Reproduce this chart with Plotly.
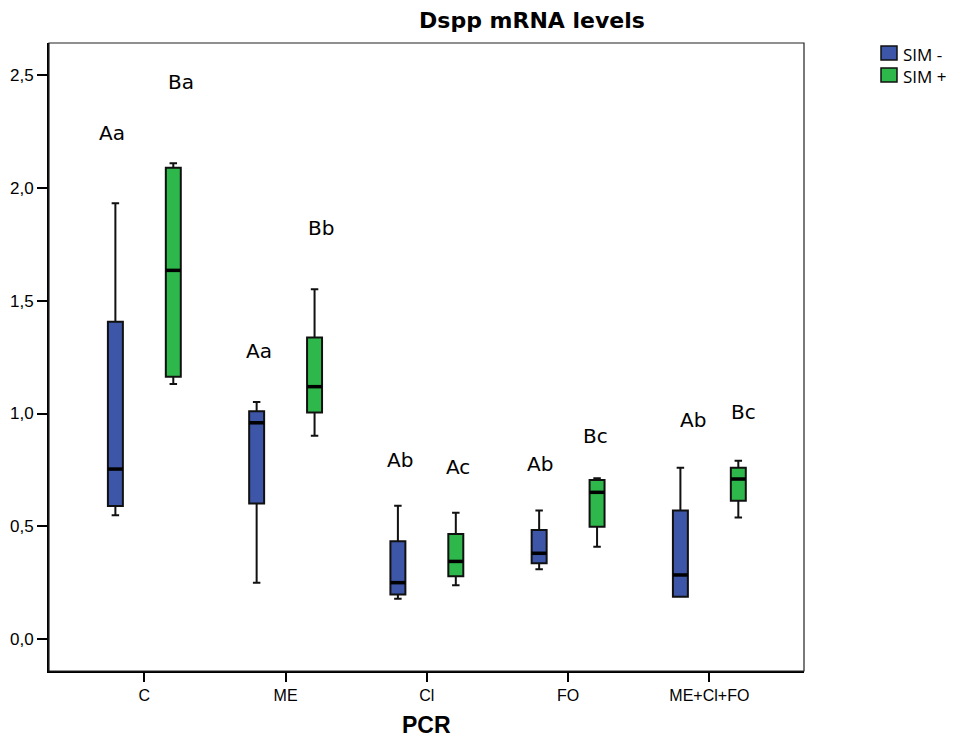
import plotly.graph_objects as go

# ---- data ----
categories = ["C", "ME", "Cl", "FO", "ME+Cl+FO"]
series_names = ["SIM -", "SIM +"]

sim_minus_lower = [0.550, 0.251, 0.180, 0.310, 0.189]
sim_minus_q1 = [0.590, 0.602, 0.199, 0.337, 0.189]
sim_minus_median = [0.754, 0.959, 0.251, 0.381, 0.285]
sim_minus_q3 = [1.407, 1.010, 0.434, 0.484, 0.570]
sim_minus_upper = [1.931, 1.051, 0.592, 0.570, 0.760]

sim_plus_lower = [1.131, 0.902, 0.240, 0.410, 0.539]
sim_plus_q1 = [1.163, 1.004, 0.279, 0.499, 0.614]
sim_plus_median = [1.634, 1.119, 0.345, 0.651, 0.710]
sim_plus_q3 = [2.089, 1.337, 0.466, 0.706, 0.760]
sim_plus_upper = [2.108, 1.550, 0.561, 0.713, 0.791]

sim_minus_letters = ["Aa", "Aa", "Ab", "Ab", "Ab"]
sim_plus_letters = ["Ba", "Bb", "Ac", "Bc", "Bc"]
sim_minus_letter_y = [2.242, 1.277, 0.795, 0.776, 0.973]
sim_plus_letter_y = [2.469, 1.822, 0.761, 0.902, 1.008]

y_tick_values = [0.0, 0.5, 1.0, 1.5, 2.0, 2.5]

# ---- style ----
W, H = 964, 737
ML, MR, MT, MB = 49, 160, 43, 66
PW, PH = W - ML - MR, H - MT - MB
colors = ["#3D56A7", "#2EB84B"]
offsets = [-0.205, 0.205]
box_w = 0.106
minus_letter_dx = [-0.229, -0.187, -0.192, -0.202, -0.119]
plus_letter_dx = [0.260, 0.253, 0.220, 0.195, 0.243]

stats = [
    (sim_minus_lower, sim_minus_q1, sim_minus_median, sim_minus_q3, sim_minus_upper),
    (sim_plus_lower, sim_plus_q1, sim_plus_median, sim_plus_q3, sim_plus_upper),
]

fig = go.Figure()
for s, (lo, q1, med, q3, up) in enumerate(stats):
    xs = [i + offsets[s] for i in range(len(categories))]
    fig.add_trace(go.Box(
        name=series_names[s],
        x=xs, q1=q1, median=med, q3=q3, lowerfence=lo, upperfence=up,
        width=box_w, whiskerwidth=0.5,
        fillcolor=colors[s],
        line=dict(color="#111111", width=2),
        boxpoints=False,
        showlegend=False,
    ))
for s, (lo, q1, med, q3, up) in enumerate(stats):
    for i in range(len(categories)):
        x0 = i + offsets[s]
        fig.add_trace(go.Scatter(
            x=[x0 - box_w / 2, x0 + box_w / 2], y=[med[i], med[i]],
            mode="lines", line=dict(color="black", width=3.5),
            showlegend=False, hoverinfo="skip",
        ))

annotations = []
for s, (letters, ly, dx) in enumerate([
    (sim_minus_letters, sim_minus_letter_y, minus_letter_dx),
    (sim_plus_letters, sim_plus_letter_y, plus_letter_dx),
]):
    for i in range(len(categories)):
        annotations.append(dict(
            x=i + dx[i], y=ly[i], xref="x", yref="y", text=letters[i],
            showarrow=False, xanchor="center", yanchor="middle",
            font=dict(family="DejaVu Sans", size=20, color="black"),
        ))

def px_x(px):
    return (px - ML) / PW

def px_y(py):
    return 1 - (py - MT) / PH

annotations.append(dict(
    x=0.5, y=px_y(725), xref="paper", yref="paper", text="<b>PCR</b>",
    showarrow=False, xanchor="center", yanchor="middle",
    font=dict(family="Liberation Sans", size=23, color="black"),
))

# manual legend
shapes = [dict(type="rect", xref="paper", yref="paper", x0=0, y0=0, x1=1, y1=1,
               line=dict(color="#222222", width=1.2), layer="above")]
legend_rows = [53, 75]
for s in range(2):
    cy = legend_rows[s]
    shapes.append(dict(type="rect", xref="paper", yref="paper",
                       x0=px_x(881), x1=px_x(897), y0=px_y(cy + 7), y1=px_y(cy - 7),
                       fillcolor=colors[s], line=dict(color="#111111", width=1.5)))
annotations.append(dict(
    x=px_x(901), y=px_y(sum(legend_rows) / 2 + 1), xref="paper", yref="paper",
    text="<br>".join(series_names), align="left",
    showarrow=False, xanchor="left", yanchor="middle",
    font=dict(family="Open Sans", size=17, color="black"),
))

fig.update_layout(
    width=W, height=H,
    margin=dict(l=ML, r=MR, t=MT, b=MB),
    paper_bgcolor="white", plot_bgcolor="white",
    separators=",.",
    title=dict(text="<b>Dspp mRNA levels</b>", x=532 / W, xanchor="center",
               y=1 - 20 / H, yanchor="middle",
               font=dict(family="DejaVu Sans", size=22, color="black")),
    showlegend=False,
    annotations=annotations,
    shapes=shapes,
)
fig.update_xaxes(
    range=[-0.675, 4.67], tickvals=list(range(len(categories))), ticktext=categories,
    showgrid=False, zeroline=False, showline=True, linecolor="black", linewidth=2,
    ticks="outside", ticklen=9, tickwidth=2, tickcolor="black", automargin=False,
    tickfont=dict(family="Liberation Sans", size=16, color="black"),
)
fig.update_yaxes(
    range=[-0.1403, 2.641], tickvals=y_tick_values, tickformat=".1f",
    showgrid=False, zeroline=False, showline=True, linecolor="black", linewidth=2,
    ticks="outside", ticklen=10, tickwidth=2, tickcolor="black", automargin=False,
    tickfont=dict(family="Liberation Sans", size=17, color="black"),
)

fig.write_html("out.html", config={"displayModeBar": False},
               post_script="document.body.style.margin='0px';document.body.style.overflow='hidden';")
